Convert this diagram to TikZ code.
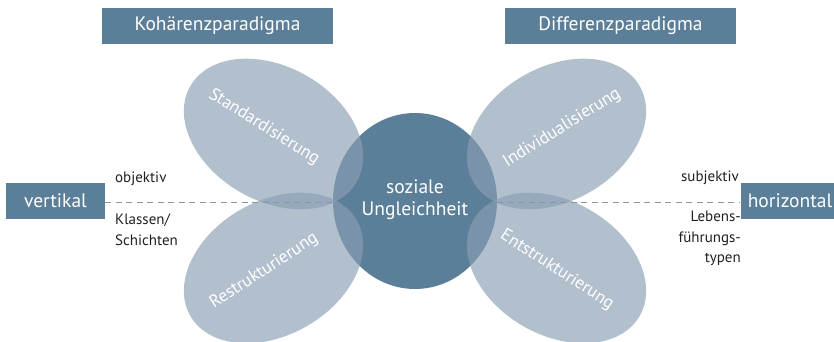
\documentclass[tikz,border=0pt]{standalone}
\usepackage{fontspec}
\setmainfont{PT Sans}
\usetikzlibrary{shapes.geometric}
\definecolor{boxblue}{RGB}{91,127,152}
\definecolor{petal}{RGB}{137,158,180}
\definecolor{dashgray}{RGB}{140,148,156}
\definecolor{labeltext}{RGB}{35,31,32}
\begin{document}
\begin{tikzpicture}[x=1pt,y=1pt,
  box/.style={fill=boxblue, text=white, minimum height=36pt, inner sep=0pt, font=\fontsize{19.5}{22}\selectfont},
  petalshape/.style={ellipse, fill=petal, fill opacity=0.65, minimum width=192pt, minimum height=134pt, inner sep=0pt},
  petaltext/.style={text=white, inner sep=0pt, font=\fontsize{17.5}{20}\selectfont},
  side/.style={text=labeltext, inner sep=0pt, font=\fontsize{15}{20.5}\selectfont},
  dashline/.style={draw=dashgray, dash pattern=on 6pt off 4.5pt, line width=1.2pt}]
\useasboundingbox (0,0) rectangle (834,342);
% header boxes
\node[box, minimum width=231pt] (koh) at (217.5,316) {Kohärenzparadigma};
\node[box, minimum width=231pt] (diff) at (620.5,316) {Differenzparadigma};
% side boxes
\node[box, minimum width=99pt] (vert) at (55.5,141) {vertikal};
\node[box, minimum width=99pt] (hor) at (790,141) {horizontal};
% central circle
\node[ellipse, fill=boxblue, minimum width=164pt, minimum height=176pt, inner sep=0pt] (circ) at (415,141) {};
\node[text=white, align=center, inner sep=0pt, font=\fontsize{19.5}{22}\selectfont] (circtext) at (415,142.5) {soziale\\Ungleichheit};
% petals
\node[petalshape, rotate=-30] (pUL) at (273.5,208) {};
\node[petalshape, rotate=30] (pUR) at (556.5,208) {};
\node[petalshape, rotate=30] (pLL) at (273.5,74) {};
\node[petalshape, rotate=-30] (pLR) at (556.5,74) {};
% dashed connectors
\draw[dashline] (vert.east |- 0,139.5) -- (circ.west |- 0,139.5);
\draw[dashline] (circ.east |- 0,139.5) -- (hor.west |- 0,139.5);
% petal labels
\node[petaltext, rotate=-32] (tUL) at (264,215) {Standardisierung};
\node[petaltext, rotate=32] (tUR) at (562,214) {Individualisierung};
\node[petaltext, rotate=33] (tLL) at (264,71) {Restrukturierung};
\node[petaltext, rotate=-33] (tLR) at (557,72) {Entstrukturierung};
% side labels
\node[side, anchor=base west] (obj) at (115,159) {objektiv};
\node[side, anchor=north west, align=left] (klass) at (115,128) {Klassen/\\Schichten};
\node[side, anchor=base east] (subj) at (739,160) {subjektiv};
\node[side, anchor=north east, align=right] (leb) at (741,131) {Lebens-\\führungs-\\typen};
\end{tikzpicture}
\end{document}
